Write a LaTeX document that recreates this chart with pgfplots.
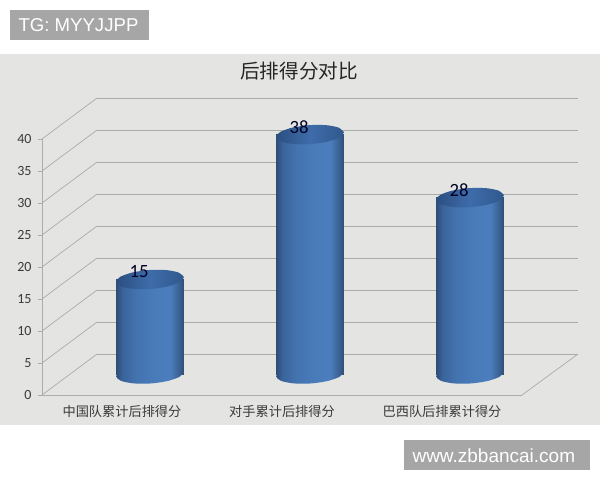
\documentclass[border=0pt]{standalone}
\usepackage{fontspec}
\setmainfont{Carlito}
\newfontfamily\cjk{Noto Sans CJK SC}
\newfontfamily\lib{Liberation Sans}
\usepackage{pgfplots}
\usepackage{pgfplotstable}
\pgfplotsset{compat=1.18}

\definecolor{bgcol}{HTML}{E4E4E2}
\definecolor{gridcol}{HTML}{ABABA7}
\definecolor{wmcol}{HTML}{A6A6A6}
\definecolor{txtcol}{HTML}{3A3A3A}
\definecolor{cyla}{HTML}{2F4E78}
\definecolor{cylb}{HTML}{3A659C}
\definecolor{cylc}{HTML}{4373B0}
\definecolor{cyld}{HTML}{4A7CBC}
\definecolor{cyle}{HTML}{4B7DBD}
\definecolor{cylf}{HTML}{3C6396}
\definecolor{capa}{HTML}{2B4F80}
\definecolor{capb}{HTML}{3E6CAA}
\definecolor{capc}{HTML}{30588C}

% cylinder body and cap, dark at the edges
\pgfdeclarehorizontalshading{cylbody}{100bp}{
  color(0bp)=(cyla); color(25bp)=(cyla); color(30bp)=(cylb);
  color(40bp)=(cylc); color(55bp)=(cyld); color(65bp)=(cyle);
  color(71bp)=(cylf); color(75bp)=(cyla); color(100bp)=(cyla)}
\pgfdeclarehorizontalshading{cylcap}{100bp}{
  color(0bp)=(capa); color(25bp)=(capa); color(50bp)=(capb);
  color(75bp)=(capc); color(100bp)=(capc)}

% outline of the end of a cylinder, offsets in pixels
\pgfplotstableread{
dx dy
33.92 2.37
29.04 6.79
16.39 9.40
-0.66 9.48
-17.53 7.02
-29.70 2.69
-33.92 -2.37
-29.04 -6.79
-16.39 -9.40
0.66 -9.48
17.53 -7.02
29.70 -2.69
33.92 2.37
}\capshape

% #1 position, #2 value
\newcommand\cyl[2]{%
  \addplot[smooth,shade,shading=cylbody,draw=none]
    table[x expr=\thisrow{dx}/160+#1,y expr=\thisrow{dy}/6.3]{\capshape};
  \addplot[ybar,bar width=67.6pt,bar shift=0pt,draw=none,shade,shading=cylbody]
    coordinates {(#1,#2)};
  \addplot[smooth,shade,shading=cylcap,draw=none]
    table[x expr=\thisrow{dx}/160+#1,y expr=\thisrow{dy}/6.3+#2]{\capshape};
}

\begin{document}
\begin{tikzpicture}[x=1pt,y=1pt]
\path[use as bounding box,fill=white] (0,0) rectangle (600,480);
\fill[bgcol] (0,55) rectangle (600,426);
\fill[wmcol] (10,440) rectangle (149,470);
\fill[wmcol] (404,10) rectangle (590,40);
\node[white,anchor=west,font=\lib\fontsize{18.6}{20}\selectfont] at (15,454.5) {TG: MYYJJPP};
\node[white,anchor=west,font=\lib\fontsize{19}{20}\selectfont] at (409,24.5) {www.zbbancai.com};
\node[black!85,font=\cjk\fontsize{19.6}{22}\selectfont] at (299,409) {后排得分对比};

% back wall
\begin{axis}[
  at={(97pt,126pt)},anchor=south west,
  scale only axis,width=481pt,height=256pt,
  xmin=0,xmax=1,ymin=0,ymax=40,
  ytick={0,5,...,40},xtick=\empty,
  ymajorgrids,grid style={gridcol,line width=0.9pt},
  major tick length=0pt,yticklabels={},
  axis line style={draw=none}]
\addplot[draw=none] coordinates {(0,0) (1,0)};
\end{axis}

% front axis with the labels, and the side wall and floor
\begin{axis}[
  at={(42pt,85pt)},anchor=south west,
  scale only axis,width=480pt,height=256pt,
  clip=false,
  xmin=-0.5,xmax=2.5,ymin=0,ymax=40,
  axis x line=bottom,axis y line=left,
  axis line style={-,gridcol,line width=0.8pt},
  tick style={gridcol,line width=0.8pt},
  tick align=outside,
  ytick={0,5,...,40},
  xtick={0,1,2},
  xticklabels={中国队累计后排得分,对手累计后排得分,巴西队后排累计得分},
  minor xtick={-0.5,0.5,1.5,2.5},
  major tick length=4pt,minor tick length=3pt,
  x tick style={draw=none},
  minor x tick style={gridcol,line width=0.8pt},
  /pgf/number format/assume math mode=true,
  yticklabel style={font=\fontsize{14}{14}\selectfont,text=txtcol,xshift=-3pt},
  xticklabel style={font=\cjk\fontsize{13.2}{14}\selectfont,text=txtcol,yshift=-3pt}]
\addplot[gridcol,line width=0.7pt] coordinates {(-0.5,0) (-0.156,6.4)};
\addplot[gridcol,line width=0.7pt] coordinates {(-0.5,5) (-0.156,11.4)};
\addplot[gridcol,line width=0.7pt] coordinates {(-0.5,10) (-0.156,16.4)};
\addplot[gridcol,line width=0.7pt] coordinates {(-0.5,15) (-0.156,21.4)};
\addplot[gridcol,line width=0.7pt] coordinates {(-0.5,20) (-0.156,26.4)};
\addplot[gridcol,line width=0.7pt] coordinates {(-0.5,25) (-0.156,31.4)};
\addplot[gridcol,line width=0.7pt] coordinates {(-0.5,30) (-0.156,36.4)};
\addplot[gridcol,line width=0.7pt] coordinates {(-0.5,35) (-0.156,41.4)};
\addplot[gridcol,line width=0.7pt] coordinates {(-0.5,40) (-0.156,46.4)};
\addplot[gridcol,line width=0.7pt] coordinates {(2.5,0) (2.85,6.4)};
\end{axis}

% cylinders, canvas wide so that x=0 falls on the first one
\begin{axis}[
  at={(0pt,0pt)},anchor=south west,
  scale only axis,width=600pt,height=480pt,
  hide axis,clip=false,
  xmin=-0.9375,xmax=2.8125,ymin=-16.825,ymax=59.365,
  /pgf/number format/assume math mode=true]
\cyl{0}{15}
\cyl{1}{38}
\cyl{2}{28}
\addplot[draw=none,mark=none,
  nodes near coords,
  nodes near coords style={font=\fontsize{18.7}{19}\selectfont,text=black!85!blue,
    anchor=center,xshift=-11pt,yshift=7.5pt}]
  coordinates {(0,15) (1,38) (2,28)};
\end{axis}
\end{tikzpicture}
\end{document}
